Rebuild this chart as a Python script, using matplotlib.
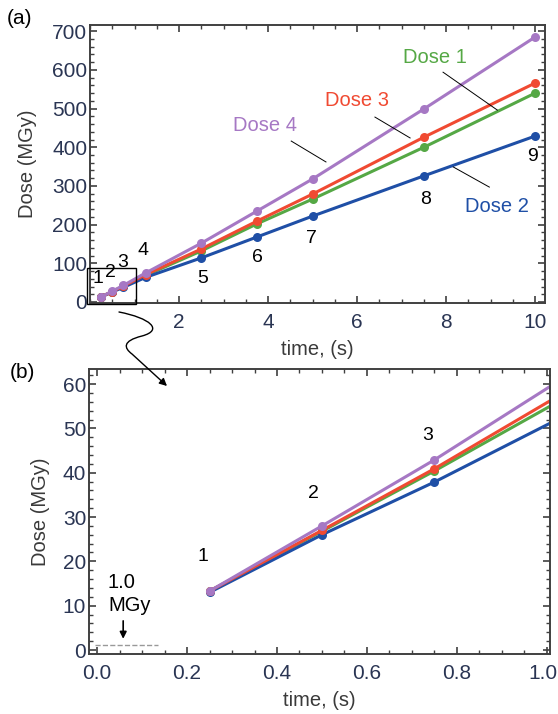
import matplotlib
matplotlib.use('Agg')
import matplotlib.pyplot as plt
from matplotlib.patches import Rectangle, FancyArrowPatch
from matplotlib.path import Path
from matplotlib.ticker import MultipleLocator
from matplotlib.transforms import ScaledTranslation

plt.rcParams['font.family'] = ['Liberation Sans', 'DejaVu Sans']

# data
time_s = [0.25, 0.5, 0.75, 1.25, 2.5, 3.75, 5, 7.5, 10]
dose1 = [13.3, 26.8, 40.4, 68.8, 132, 202, 266, 400, 540]
dose2 = [13.0, 26.0, 37.9, 63.7, 114, 168, 222, 326, 429]
dose3 = [13.3, 27.0, 40.9, 70.7, 137, 209, 279, 426, 566]
dose4 = [13.3, 28.0, 42.9, 75.1, 152, 235, 318, 499, 685]

series = [('Dose 1', dose1, '#55a845'),
          ('Dose 2', dose2, '#1f4fa6'),
          ('Dose 3', dose3, '#f04a32'),
          ('Dose 4', dose4, '#a678c4')]

point_labels = ['1', '2', '3', '4', '5', '6', '7', '8', '9']
pos_a = [(0.18, 62), (0.45, 75), (0.74, 101), (1.19, 132), (2.54, 62),
         (3.75, 116), (4.97, 163), (7.53, 264), (9.93, 375)]
pos_b = [(0.236, 21), (0.48, 35.2), (0.736, 48.3)]

xticks_a = [2, 4, 6, 8, 10]
xticks_b = [0.0, 0.2, 0.4, 0.6, 0.8, 1.0]

# name, text pos, leader line start, leader line end
dose_tags = [('Dose 4', (3.93, 457), (4.52, 416), (5.30, 362)),
             ('Dose 3', (6.00, 522), (6.40, 478), (7.19, 424)),
             ('Dose 1', (7.75, 633), (7.93, 594), (9.15, 496)),
             ('Dose 2', (9.15, 248), (8.16, 349), (8.97, 297))]

tick_col = '#2a3553'
lab_col = '#3a3a3a'
spine_col = '#404040'

W, H = 558, 714
fig = plt.figure(figsize=(W / 100, H / 100), dpi=100)
ax_a = fig.add_axes([90 / W, 1 - 303 / H, 455 / W, 278 / H])
ax_b = fig.add_axes([89 / W, 1 - 654 / H, 461 / W, 285 / H])


def style(ax, xmin, ymaj, ymin):
    ax.xaxis.set_minor_locator(MultipleLocator(xmin))
    ax.yaxis.set_major_locator(MultipleLocator(ymaj))
    ax.yaxis.set_minor_locator(MultipleLocator(ymin))
    ax.tick_params(which='both', direction='in', top=True, right=True,
                   color=spine_col, labelcolor=tick_col, labelsize=15)
    ax.tick_params(which='major', length=5, width=1.2)
    ax.tick_params(which='minor', length=3, width=1.0)
    ax.tick_params(axis='x', which='major', pad=7)
    ax.tick_params(axis='y', which='major', pad=2)
    for s in ax.spines.values():
        s.set_color(spine_col)
        s.set_linewidth(1.4)


for name, vals, col in series:
    for ax in (ax_a, ax_b):
        ax.plot(time_s, vals, '-o', color=col, lw=2.2, ms=6.5,
                markeredgewidth=0)

# panel (a)
ax_a.set_xticks(xticks_a)
style(ax_a, 0.5, 100, 20)
ax_a.set_xlim(0, 10.22)
ax_a.set_ylim(-2.6, 716)
ax_a.set_xlabel('time, (s)', fontsize=14.5, color=lab_col, labelpad=6)
ax_a.set_ylabel('Dose (MGy)', fontsize=14.5, color=lab_col, labelpad=11)
for lab, (x, y) in zip(point_labels, pos_a):
    ax_a.text(x, y, lab, fontsize=14, ha='center', va='center')
for (name, vals, col) in series:
    for tag, tpos, l0, l1 in dose_tags:
        if tag == name:
            ax_a.text(tpos[0], tpos[1], tag, color=col, fontsize=14.5,
                      ha='center', va='center')
            ax_a.plot([l0[0], l1[0]], [l0[1], l1[1]], color='black', lw=0.7)
ax_a.add_patch(Rectangle((-0.07, -5), 1.1, 93, fill=False, edgecolor='black',
                         lw=1.0, clip_on=False, zorder=5))
fig.text(20 / W, 1 - 18 / H, '(a)', fontsize=15, ha='center', va='center')

# panel (b)
ax_b.set_xticks(xticks_b, [f'{v:.1f}' for v in xticks_b])
style(ax_b, 0.05, 10, 2)
ax_b.set_xlim(-0.018, 1.007)
ax_b.set_ylim(-0.9, 63.4)
ax_b.set_xlabel('time, (s)', fontsize=14.5, color=lab_col, labelpad=6)
ax_b.set_ylabel('Dose (MGy)', fontsize=14.5, color=lab_col, labelpad=9)
for lab, (x, y) in zip(point_labels, pos_b):
    ax_b.text(x, y, lab, fontsize=14, ha='center', va='center')
ax_b.plot([-0.004, 0.135], [1.2, 1.2], '--', color='#999999', lw=1.0)
ax_b.text(0.024, 12.6, '1.0\nMGy', fontsize=14.5, ha='left', va='center',
          linespacing=1.25)
ax_b.annotate('', xy=(0.058, 1.9), xytext=(0.058, 7.2),
              arrowprops=dict(arrowstyle='-|>', color='black', lw=1.2,
                              mutation_scale=10))
fig.text(22 / W, 1 - 373 / H, '(b)', fontsize=15, ha='center', va='center')

# nudge the last tick label of (b) so it stays inside the figure
last = ax_b.get_xticklabels()[-1]
last.set_transform(last.get_transform()
                   + ScaledTranslation(-4 / 100, 0, fig.dpi_scale_trans))


# wavy connector from the box in (a) down to (b)
def fp(x, y):
    return (x / W, 1 - y / H)


verts = [fp(119, 312), fp(150, 318), fp(164, 330), fp(142, 336),
         fp(122, 341), fp(124, 348), fp(132, 354), fp(167, 386)]
codes = [Path.MOVETO, Path.CURVE4, Path.CURVE4, Path.CURVE4,
         Path.CURVE4, Path.CURVE4, Path.CURVE4, Path.LINETO]
arrow = FancyArrowPatch(path=Path(verts, codes), arrowstyle='-|>',
                        mutation_scale=11, color='black', lw=1.0,
                        transform=fig.transFigure)
fig.patches.append(arrow)

fig.savefig('out.png', dpi=100)
